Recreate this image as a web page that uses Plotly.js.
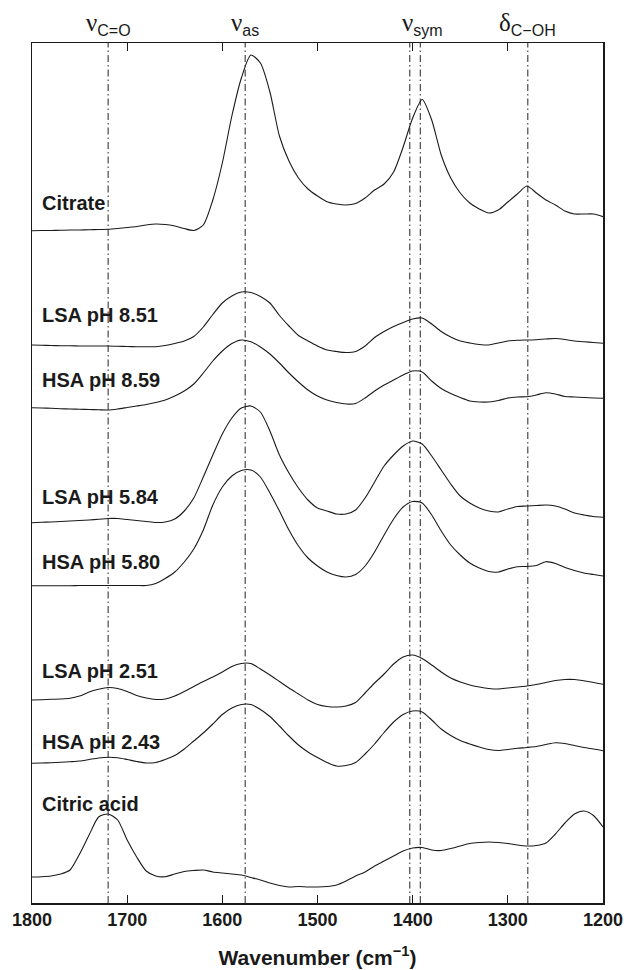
<!DOCTYPE html>
<html>
<head>
<meta charset="utf-8">
<script src="https://cdn.plot.ly/plotly-3.0.1.min.js"></script>
<style>
  html, body { margin: 0; padding: 0; background: #fff; }
  #chart { width: 626px; height: 970px; }
</style>
</head>
<body>
<div id="chart"></div>
<script>
// Shared wavenumber grid (cm^-1), 1800 down to 1200 in steps of 10
const wavenumber = [];
for (let w = 1800; w >= 1200; w -= 10) wavenumber.push(w);

// Stacked ATR-FTIR absorbance (arbitrary units, offsets included)
const citrate = [
  672.3, 672.5, 672.5, 672.7, 673, 673, 673.2, 673.5, 673.7, 674.5,
  675.5, 676.5, 678, 679, 678.5, 677, 674.5, 672.5, 678, 703,
  740, 787, 825, 848, 840, 811, 767, 742, 725, 714,
  707, 701.3, 699, 698, 699.5, 705, 713, 719, 731, 756,
  785, 803.5, 783, 748, 725, 710, 700, 694, 690, 693,
  701, 709, 717, 710, 703, 698, 692, 689, 689, 689, 686.3
];
const lsa851 = [
  558, 557.7, 557.5, 557.3, 557.2, 557, 557, 557, 557, 556.7,
  556.5, 556.3, 556.3, 556.3, 557.5, 559.5, 562, 566.5, 576, 588.5,
  600, 607, 611, 610.5, 606.5, 600, 587.5, 577, 567.5, 562,
  557, 553, 551.5, 550.5, 551.5, 557, 565.5, 571.5, 576.5, 580.5,
  584, 585, 579, 571.5, 566, 562, 560, 558.5, 558, 560,
  562, 562.7, 563, 563.3, 564, 564.5, 563.5, 562, 561.3, 560.5, 559.7
];
const hsa859 = [
  495.3, 495, 494.7, 494.3, 494, 493.8, 493.5, 493.2, 493, 494,
  495.5, 497, 498.5, 500.5, 503, 507, 512, 519, 530, 542,
  552, 559.5, 563, 561.2, 556, 549, 540, 530, 521, 513,
  507, 503, 500.5, 499, 499.5, 505, 512, 518, 523, 528,
  532, 531, 522, 514.5, 509.5, 505.5, 502, 501, 501, 502.5,
  505, 506, 506.3, 508, 510.3, 509, 506.5, 506, 505.5, 505, 504.7
];
const lsa584 = [
  380.3, 380.7, 381, 381.5, 382, 382.5, 383, 383.7, 384.5, 384.5,
  383.5, 382.5, 381.5, 380.5, 381, 384, 392, 405, 426, 448,
  469, 485, 495, 497, 491, 472, 448, 430, 415, 403,
  395, 392, 389, 389, 393, 405, 421, 437, 448, 457,
  462, 459, 447, 433, 419, 407, 400, 395, 392, 391,
  394, 396.5, 397, 397.5, 398, 397, 394, 390, 388, 386.5, 385.7
];
const hsa580 = [
  317.3, 317.3, 317.3, 317.3, 317.3, 317.5, 317.5, 317.5, 317.5, 317.5,
  317.5, 317.5, 317.5, 319.5, 324.5, 331, 341, 354, 373, 398,
  416, 427, 432.5, 433, 426, 410, 392, 373, 357, 345,
  337, 331, 327.5, 326, 328.5, 337, 351, 368, 384, 396,
  401.5, 400, 388, 372, 358, 348, 340, 335, 331.5, 331,
  334, 336.3, 336.5, 337.5, 341.3, 339.5, 335.5, 332.5, 330, 328.5, 327
];
const lsa251 = [
  203, 203.3, 203.7, 204, 204.7, 207, 211, 213.7, 215.5, 214.5,
  211.5, 207.5, 205, 203.5, 204, 207, 211.5, 216.5, 221.5, 226,
  231, 236.5, 239.5, 239.5, 234, 228, 221.5, 215, 209, 203,
  198.5, 196.5, 196, 197, 200.5, 210, 220, 229, 239, 246,
  248, 244.5, 238, 231, 225, 221, 218, 216, 214.5, 214,
  215, 216, 217, 218.5, 220.5, 222.5, 223.5, 223.5, 222.3, 220.5, 218.7
];
const hsa243 = [
  139.7, 140, 140.3, 140.7, 141.3, 142, 143.5, 145, 145.7, 145.3,
  143.5, 141.5, 140, 140.5, 143.5, 147.5, 154, 162, 170, 179,
  188.5, 195, 198.5, 198.5, 193.5, 186.5, 177, 167, 158, 151,
  145.5, 140.5, 137, 137.5, 140.5, 149, 159, 170.5, 181, 188.5,
  192, 191, 183, 174, 167.5, 162.5, 159, 156, 153.5, 152.5,
  153.5, 154.7, 155.5, 156.5, 158.5, 160.3, 159.5, 157.5, 155.5, 154, 152.3
];
const citricAcid = [
  26, 26.3, 27, 29, 33, 49, 68, 86, 89, 83,
  63, 46, 32, 27, 26.3, 29, 31.5, 32.5, 33, 31,
  30, 29, 28, 25.5, 23, 20, 17.5, 16, 16.5, 16,
  16, 16.5, 18, 22, 27, 31, 37, 42, 47, 52,
  55, 55.5, 53, 52.5, 54.5, 57, 59.5, 60.5, 61, 60.5,
  59.5, 58, 57, 57.5, 60, 69, 80, 89, 92, 87.5, 76
];

const sampleNames = ['Citrate', 'LSA pH 8.51', 'HSA pH 8.59', 'LSA pH 5.84',
                     'HSA pH 5.80', 'LSA pH 2.51', 'HSA pH 2.43', 'Citric acid'];
const sampleSeries = [citrate, lsa851, hsa859, lsa584, hsa580, lsa251, hsa243, citricAcid];

// Band assignments (cm^-1) marked with dash-dot lines
const bandPositions = [1720, 1576, 1403, 1392, 1279];
const bandSymbols = ['ν', 'ν', 'ν', 'δ'];
const bandSubscripts = ['C=O', 'as', 'sym', 'C−OH'];
const bandLabelAt = [1720, 1576, 1390, 1279];

// Vertical placement of sample names (same units as the spectra)
const nameY = [700, 588, 523, 406, 341, 232, 161, 99];

const traces = sampleSeries.map((ys, i) => ({
  type: 'scatter',
  mode: 'lines',
  name: sampleNames[i],
  x: wavenumber,
  y: ys,
  line: { color: '#1a1a1a', width: 1.1, shape: 'spline', smoothing: 0.7 },
  hoverinfo: 'skip'
}));

const shapes = bandPositions.map(w => ({
  type: 'line', xref: 'x', yref: 'paper',
  x0: w, x1: w, y0: 0, y1: 1,
  line: { color: '#222', width: 1, dash: '7px,3px,1.5px,3px' }
}));

const annotations = [];
sampleNames.forEach((n, i) => {
  annotations.push({
    x: 1792, y: nameY[i], xref: 'x', yref: 'y',
    text: n, showarrow: false, xanchor: 'left', yanchor: 'middle',
    font: { family: 'Liberation Sans, Arial, sans-serif', size: 20, color: '#1a1a1a', weight: 'bold' }
  });
});
bandSymbols.forEach((s, i) => {
  annotations.push({
    x: bandLabelAt[i], y: 1.0, xref: 'x', yref: 'paper',
    text: '<span style="font-family:Liberation Serif, serif">' + s + '</span>' +
          '<sub><span style="font-size:16px">' + bandSubscripts[i] + '</span></sub>',
    showarrow: false, xanchor: 'center', yanchor: 'bottom', yshift: 2,
    font: { family: 'Liberation Sans, Arial, sans-serif', size: 25, color: '#1a1a1a' }
  });
});

const layout = {
  width: 626, height: 970,
  margin: { l: 32, r: 23, t: 43, b: 67 },
  paper_bgcolor: '#fff', plot_bgcolor: '#fff',
  showlegend: false,
  xaxis: {
    range: [1800, 1200],
    tickvals: [1800, 1700, 1600, 1500, 1400, 1300, 1200],
    ticktext: ['1800', '1700', '1600', '1500', '1400', '1300', '1200'],
    ticks: 'inside', ticklen: 8, tickwidth: 1, tickcolor: '#1a1a1a',
    showline: true, linecolor: '#1a1a1a', linewidth: 1.5, mirror: 'ticks',
    showgrid: false, zeroline: false,
    tickfont: { family: 'Liberation Sans, Arial, sans-serif', size: 18, color: '#1a1a1a', weight: 'bold' },
    title: {
      text: 'Wavenumber (cm<sup>−1</sup>)', standoff: 21,
      font: { family: 'Liberation Sans, Arial, sans-serif', size: 21, color: '#1a1a1a', weight: 'bold' }
    }
  },
  yaxis: {
    range: [0, 860],
    showticklabels: false, ticks: '',
    showline: true, linecolor: '#1a1a1a', linewidth: 1.5, mirror: true,
    showgrid: false, zeroline: false
  },
  shapes: shapes,
  annotations: annotations
};

Plotly.newPlot('chart', traces, layout, { staticPlot: true, displayModeBar: false });
</script>
</body>
</html>
